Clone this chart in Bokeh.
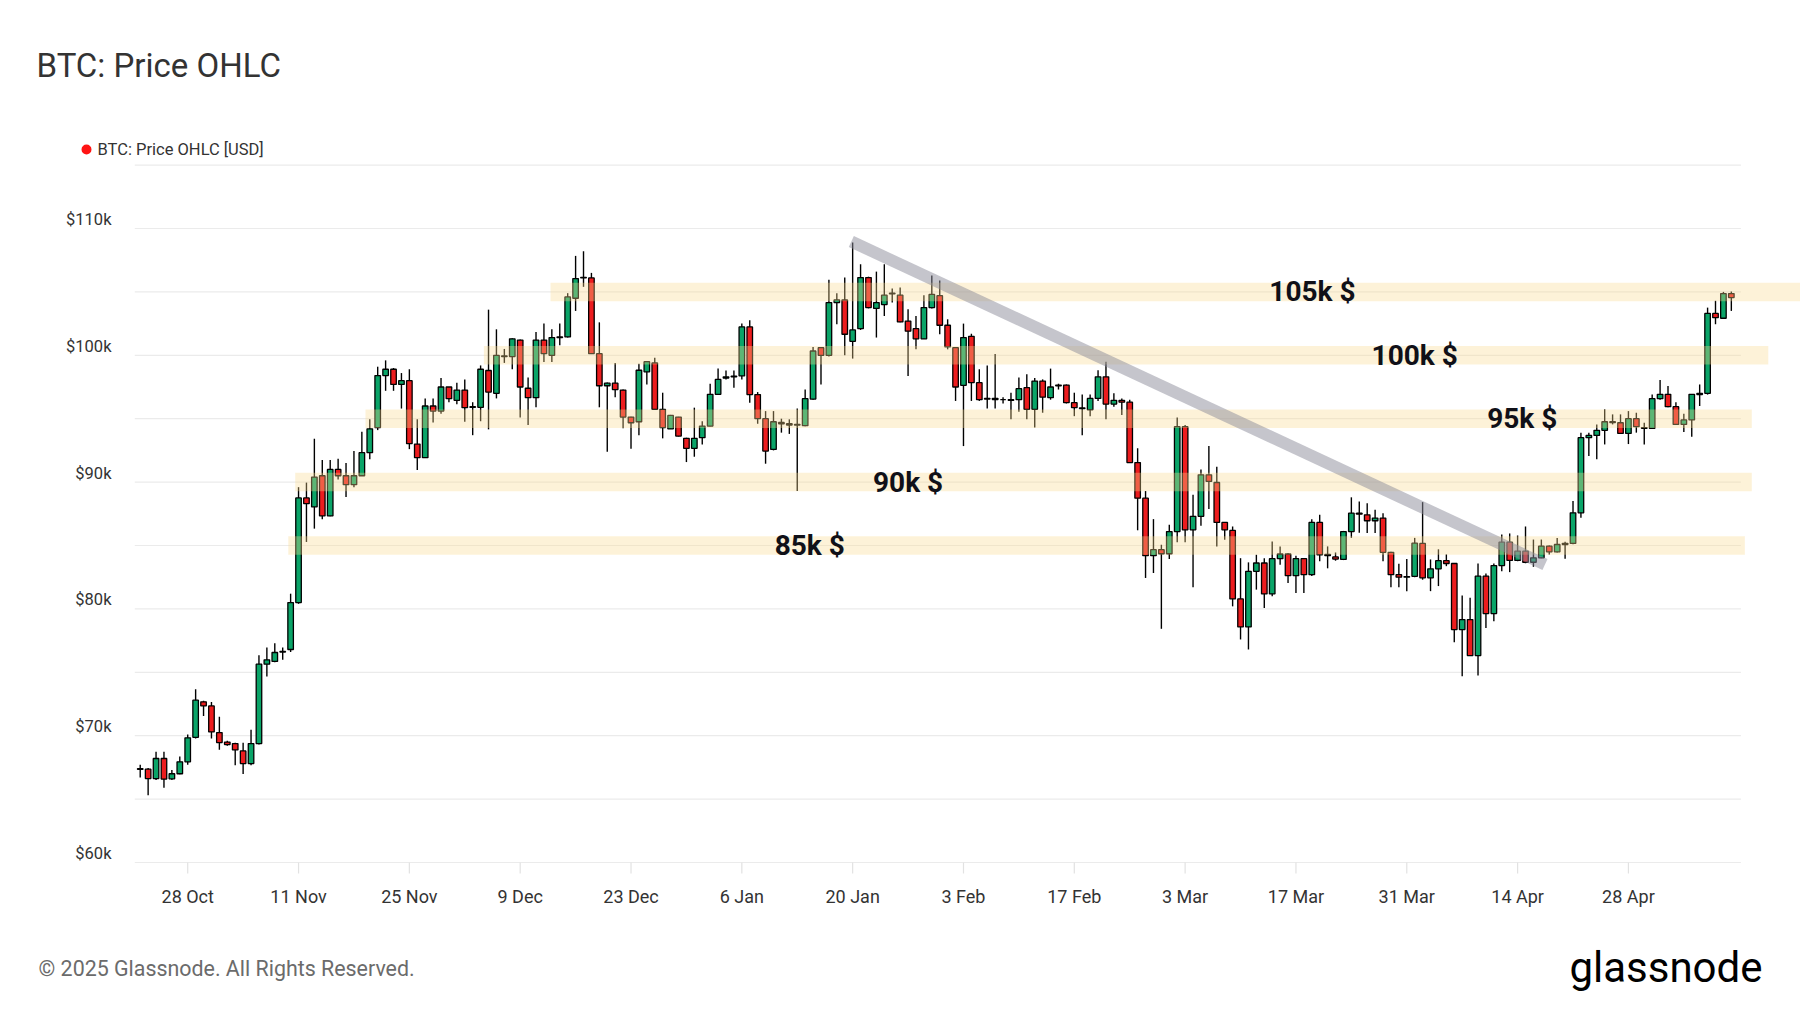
import pandas as pd
from bokeh.plotting import figure
from bokeh.models import Range1d, ColumnDataSource
from bokeh.core.properties import value
from bokeh.embed import file_html
from bokeh.resources import INLINE

# ---------------- data (daily OHLC, thousand USD) ----------------
first_day = "2024-10-21"
opens = [69.0, 67.4, 67.36, 66.62, 68.2, 66.6, 67.0, 67.94, 69.87, 72.67, 72.35,
         70.25, 69.5, 69.38, 68.8, 67.8, 69.38, 75.64, 75.86, 76.6, 76.8, 80.5, 88.75, 88.04, 90.5, 87.33, 91.0, 90.5, 89.8, 90.5, 92.32, 94.3, 98.4, 98.9, 97.7, 98.0, 93.0, 91.93, 96.0, 95.6, 97.5,
         96.45, 97.26, 95.9, 95.9, 98.8, 97.0, 99.9, 99.9, 101.2, 97.4, 96.66, 101.2, 100.0, 101.45, 101.45, 104.5, 106.1, 106.1, 100.13, 97.6, 97.8, 97.26, 95.13, 94.76, 98.7, 99.4, 95.74, 94.2, 95.13, 93.45, 92.66,
         93.5, 94.42, 96.92, 98.2, 98.3, 98.37, 102.24, 96.9, 95.0, 92.58, 94.7, 94.6, 94.5, 94.45, 96.55, 100.6, 100.0, 104.16, 104.37, 101.1, 102.1, 106.13, 103.7, 104.0, 104.9, 104.74, 102.7, 102.1, 101.3, 103.76, 104.7,
         102.37, 100.6, 97.63, 101.5, 97.84, 96.6, 96.6, 96.5, 96.5, 96.5, 97.45, 95.74, 97.97, 96.66, 97.6, 97.65, 96.26, 95.85, 95.7, 96.6, 98.3, 96.15, 96.45, 96.3, 91.54, 88.73, 84.2, 84.67,
         84.35, 86.1, 94.37, 86.24, 87.3, 90.57, 89.97, 86.82, 86.19, 80.79, 78.58, 82.96, 83.62, 81.18, 83.96, 84.33, 82.62, 83.96, 82.7, 86.82, 84.3, 84.1, 83.9, 86.1, 87.55, 87.42, 86.95, 87.16, 84.46, 82.7, 82.5,
         82.57, 85.16, 82.45, 83.16, 83.8, 83.58, 78.37, 79.16, 76.32, 82.58, 79.63, 83.42, 85.26, 83.82, 84.55, 83.68, 84.03, 84.95, 84.5, 85.08, 85.16, 87.58, 93.5, 93.68, 94.08, 94.76, 94.68, 93.84, 95.0, 94.3,
         94.24, 96.58, 96.92, 95.95, 94.55, 94.9, 96.9, 97.0, 103.3, 102.92, 104.87]
highs = [69.5, 67.7, 67.45, 68.73, 68.73, 67.3, 68.36, 70.1, 73.67, 72.75, 72.65,
         71.5, 69.6, 69.45, 69.45, 70.46, 76.35, 76.95, 77.3, 76.95, 81.2, 89.6, 89.96, 93.42, 91.74, 91.74, 91.85, 91.5, 92.45, 93.98, 94.95, 99.1, 99.6, 99.0, 98.6, 98.9, 94.95, 96.6, 96.6, 98.2, 97.5,
         97.84, 98.1, 96.3, 99.2, 103.6, 102.05, 100.5, 101.35, 101.25, 98.24, 101.84, 102.5, 102.05, 102.5, 104.9, 107.84, 108.2, 106.5, 102.6, 97.85, 99.4, 97.3, 95.15, 99.34, 99.55, 99.8, 97.05, 95.3, 95.15, 93.5, 95.87,
         94.8, 97.76, 98.95, 98.8, 98.8, 102.5, 102.76, 97.1, 95.6, 95.6, 95.0, 94.95, 95.8, 97.3, 100.66, 100.66, 105.95, 104.9, 106.13, 108.9, 107.18, 106.2, 106.6, 107.18, 105.26, 105.34, 103.63, 103.1, 104.74, 106.3, 105.9,
         102.84, 100.65, 102.5, 101.7, 98.9, 99.2, 100.1, 96.7, 97.05, 98.24, 98.5, 98.2, 98.1, 98.95, 97.76, 97.7, 97.05, 96.9, 96.9, 98.83, 99.5, 97.0, 96.6, 96.5, 92.67, 89.3, 87.08, 85.06,
         86.63, 95.1, 94.5, 89.0, 91.0, 92.85, 91.22, 86.85, 86.5, 84.0, 83.67, 84.27, 84.0, 85.32, 84.93, 84.4, 84.2, 84.0, 87.08, 87.42, 84.93, 84.45, 86.15, 88.8, 88.47, 88.34, 87.82, 87.55, 84.5, 83.57, 83.93,
         85.6, 88.42, 83.9, 84.7, 84.3, 83.6, 81.05, 80.87, 83.58, 82.8, 83.58, 85.87, 85.95, 85.79, 86.5, 85.47, 85.47, 85.0, 85.6, 85.3, 88.5, 93.9, 93.9, 94.55, 95.74, 95.34, 95.34, 95.6, 95.47, 94.68,
         96.9, 98.05, 97.58, 96.3, 95.4, 96.95, 97.7, 103.76, 104.3, 105.0, 105.03]
lows = [66.8, 66.7, 65.3, 66.5, 65.9, 66.5, 66.95, 67.7, 69.77, 71.56, 69.77,
        68.9, 69.2, 67.67, 66.97, 67.67, 69.3, 74.66, 75.8, 75.98, 76.6, 80.4, 85.28, 86.33, 87.07, 87.3, 90.2, 88.83, 89.6, 90.5, 91.8, 94.1, 97.2, 97.2, 95.8, 92.6, 90.95, 91.9, 94.7, 95.4, 96.3,
        96.13, 94.76, 93.7, 94.8, 94.16, 96.6, 99.4, 98.9, 95.1, 94.5, 95.9, 99.47, 99.47, 100.8, 101.4, 103.5, 105.4, 100.1, 95.9, 92.4, 96.7, 94.24, 92.63, 93.7, 97.7, 95.7, 93.45, 94.2, 93.6, 91.58, 92.0,
        92.97, 94.4, 96.9, 98.1, 97.45, 98.1, 96.26, 94.6, 91.45, 92.5, 93.9, 93.8, 89.3, 94.4, 96.5, 97.7, 99.9, 102.45, 100.0, 99.74, 102.0, 103.7, 101.4, 103.1, 104.16, 102.6, 98.37, 100.47, 101.3, 103.7, 101.66,
        100.47, 96.4, 92.84, 96.4, 96.4, 95.8, 95.8, 96.2, 94.95, 95.55, 94.95, 94.3, 95.47, 96.5, 97.3, 96.2, 95.2, 93.7, 95.2, 96.4, 94.95, 95.95, 95.3, 91.5, 86.2, 82.44, 82.83, 78.43,
        83.93, 85.25, 85.25, 81.7, 86.56, 87.87, 84.93, 85.45, 80.2, 77.59, 76.8, 81.52, 80.08, 81.0, 83.49, 82.05, 81.26, 81.26, 82.6, 83.75, 83.2, 83.8, 83.85, 85.6, 86.0, 85.98, 85.98, 83.75, 81.7, 81.7, 81.4,
        82.5, 82.3, 81.4, 81.8, 83.37, 77.37, 74.68, 76.3, 74.74, 78.5, 79.03, 82.97, 82.9, 83.76, 83.6, 83.32, 84.0, 84.3, 84.45, 83.95, 85.1, 87.18, 92.05, 91.8, 92.97, 94.55, 93.8, 93.0, 93.9, 92.97,
        94.2, 96.5, 95.9, 94.5, 93.95, 93.58, 96.0, 96.9, 102.45, 102.9, 103.5]
closes = [67.4, 67.35, 66.62, 68.2, 66.58, 67.0, 67.94, 69.83, 72.8, 72.35, 70.3,
          69.46, 69.3, 68.88, 67.8, 69.38, 75.64, 75.98, 76.56, 76.65, 80.5, 88.75, 88.3, 90.4, 87.33, 91.0, 90.5, 89.8, 90.5, 92.32, 94.2, 98.4, 98.9, 97.7, 98.0, 93.03, 91.93, 96.0, 95.6, 97.5, 96.58,
          97.26, 95.87, 95.95, 98.9, 97.1, 100.0, 99.95, 101.3, 97.5, 96.66, 101.2, 100.13, 101.4, 101.4, 104.6, 106.05, 106.15, 100.13, 97.6, 97.8, 97.3, 95.13, 94.68, 98.82, 99.5, 95.74, 94.3, 95.26, 93.63, 92.66, 93.45,
          94.42, 96.92, 98.1, 98.3, 98.35, 102.24, 96.9, 95.0, 92.45, 94.76, 94.6, 94.5, 94.55, 96.58, 100.34, 100.0, 104.16, 104.37, 101.66, 102.0, 106.13, 103.76, 104.16, 104.74, 104.85, 102.63, 101.9, 101.3, 103.76, 104.8, 102.37,
          100.66, 97.5, 101.4, 97.84, 96.5, 96.55, 96.5, 96.5, 96.45, 97.37, 95.74, 97.97, 96.7, 97.5, 97.65, 96.26, 95.87, 95.8, 96.6, 98.3, 96.15, 96.45, 96.3, 91.54, 88.73, 84.2, 84.67, 84.35,
          86.1, 94.37, 86.24, 87.3, 90.57, 90.05, 86.82, 86.24, 80.79, 78.58, 82.96, 83.62, 81.18, 83.96, 84.33, 82.62, 83.96, 82.7, 86.82, 84.27, 84.2, 83.93, 86.1, 87.55, 87.47, 86.95, 87.16, 84.46, 82.7, 82.5, 82.55,
          85.18, 82.45, 83.16, 83.8, 83.58, 78.37, 79.16, 76.32, 82.58, 79.63, 83.42, 85.26, 83.82, 84.55, 83.68, 84.03, 84.95, 84.5, 85.08, 85.16, 87.58, 93.5, 93.68, 94.08, 94.76, 94.7, 93.84, 95.0, 94.37, 94.24,
          96.58, 96.92, 95.95, 94.55, 94.9, 96.92, 97.0, 103.3, 102.97, 104.87, 104.55]

tick_dates = ["2024-10-28", "2024-11-11", "2024-11-25", "2024-12-09", "2024-12-23", "2025-01-06", "2025-01-20",
              "2025-02-03", "2025-02-17", "2025-03-03", "2025-03-17", "2025-03-31", "2025-04-14", "2025-04-28"]
tick_labels = ["28 Oct", "11 Nov", "25 Nov", "9 Dec", "23 Dec", "6 Jan", "20 Jan",
               "3 Feb", "17 Feb", "3 Mar", "17 Mar", "31 Mar", "14 Apr", "28 Apr"]
y_label_values = [60000, 70000, 80000, 90000, 100000, 110000]
y_label_texts = ["$60k", "$70k", "$80k", "$90k", "$100k", "$110k"]
grid_levels = [60000, 65000, 70000, 75000, 80000, 85000, 90000, 95000, 100000, 105000, 110000, 115000]

band_levels = [105000, 100000, 95000, 90000, 85000]
band_texts = ["105k $", "100k $", "95k $", "90k $", "85k $"]
band_starts = ["2024-12-12 20:00", "2024-12-04 10:00", "2024-11-19 11:00", "2024-11-10 14:00", "2024-11-09 17:00"]
band_ends = ["2025-05-19 17:00", "2025-05-15 16:00", "2025-05-13 14:00", "2025-05-13 14:00", "2025-05-12 17:00"]
band_text_dates = ["2025-03-19 02:00", "2025-04-01 00:00", "2025-04-14 14:00", "2025-01-27 00:00", "2025-01-14 14:00"]

trend_dates = ["2025-01-19 20:00", "2025-04-17 11:00"]
trend_prices = [108970, 83500]

# ---------------- page geometry (pixels on the 1800x1013 page) ----------------
W, H = 1800, 1013
X_FIRST = 131.8        # page x of first_day
PX_PER_DAY = 7.916
Y_60K = 862.0          # page y of the $60k grid line
PX_PER_USD = 12.68 / 1000
GRID_X0, GRID_X1 = 134.3, 1740.4
T0 = pd.Timestamp(first_day)


def xd(px):
    return T0 + pd.Timedelta(days=(px - X_FIRST) / PX_PER_DAY)


def yd(py):
    return 60000 + (Y_60K - py) / PX_PER_USD


GREEN, RED = "#0aa468", "#ec1c1e"
GRID = "#ebebeb"
TXT = "#333333"

n = len(opens)
assert n == len(highs) == len(lows) == len(closes) == 203
dates = pd.date_range(first_day, periods=n, freq="D")
o = [v * 1000 for v in opens]
h = [v * 1000 for v in highs]
l = [v * 1000 for v in lows]
c = [v * 1000 for v in closes]
window_start = xd(GRID_X0)
keep = [i for i in range(n) if dates[i] >= window_start]   # candles inside the chart window
src = ColumnDataSource(dict(
    x=[dates[i] for i in keep],
    high=[h[i] for i in keep],
    low=[l[i] for i in keep],
    top=[max(o[i], c[i]) for i in keep],
    bottom=[min(o[i], c[i]) for i in keep],
    color=[GREEN if c[i] >= o[i] else RED for i in keep],
))

p = figure(width=W, height=H, x_axis_location=None, y_axis_location=None,
           x_range=Range1d(xd(0), xd(W)), y_range=Range1d(yd(H), yd(0)),
           output_backend="svg", toolbar_location=None, min_border=0)
p.outline_line_color = None
p.grid.visible = False
p.background_fill_color = "white"
p.border_fill_color = "white"

# grid lines
ng = len(grid_levels)
p.segment(x0=[xd(GRID_X0)] * ng, y0=grid_levels, x1=[xd(GRID_X1)] * ng, y1=grid_levels,
          line_color=GRID, line_width=1.2)

# x ticks + labels
tick_x = pd.to_datetime(tick_dates)
p.segment(x0=tick_x, y0=[yd(Y_60K)] * len(tick_x), x1=tick_x, y1=[yd(Y_60K + 11)] * len(tick_x),
          line_color="#e2e2e2", line_width=1.2)
p.text(x=tick_x, y=[yd(895.5)] * len(tick_x), text=tick_labels,
       text_font=value("Roboto"), text_font_size="18px", text_color=TXT,
       text_align="center", text_baseline="middle")

# y labels (drawn just above their grid lines)
LABEL_LIFT = 9 / PX_PER_USD
p.text(x=[xd(111)] * len(y_label_values), y=[v + LABEL_LIFT for v in y_label_values], text=y_label_texts,
       text_font=value("Roboto"), text_font_size="16.5px", text_color=TXT,
       text_align="right", text_baseline="middle")

# candles
p.segment(x0="x", y0="high", x1="x", y1="low", source=src, line_color="black", line_width=1.4)
p.vbar(x="x", width=0.7 * 86400000, top="top", bottom="bottom", fill_color="color",
       line_color="black", line_width=1.3, source=src)

# highlighted levels
BAND_HALF = 730
p.quad(left=pd.to_datetime(band_starts), right=pd.to_datetime(band_ends),
       bottom=[v - BAND_HALF for v in band_levels], top=[v + BAND_HALF for v in band_levels],
       fill_color="#f9d98f", fill_alpha=0.35, line_color=None)

# trend line
p.line(x=pd.to_datetime(trend_dates), y=trend_prices, line_width=12, line_color="#8b8b99",
       line_alpha=0.5, line_cap="butt")

# level texts
p.text(x=pd.to_datetime(band_text_dates), y=band_levels, text=band_texts,
       text_font=value("Roboto"), text_font_style="bold", text_font_size="28px",
       text_color="#101018", text_align="center", text_baseline="middle")

# title, legend, footer
p.text(x=[xd(36)], y=[yd(64.5)], text=["BTC: Price OHLC"], text_font=value("Roboto"),
       text_font_size="33px", text_color=TXT, text_align="left", text_baseline="middle")
p.scatter(x=[xd(86)], y=[yd(149)], size=10, marker="circle", fill_color="#ff1414", line_color=None)
p.text(x=[xd(97)], y=[yd(149)], text=["BTC: Price OHLC [USD]"], text_font=value("Roboto"),
       text_font_size="16.5px", text_color=TXT, text_align="left", text_baseline="middle")
p.text(x=[xd(38)], y=[yd(968)], text=["© 2025 Glassnode. All Rights Reserved."], text_font=value("Roboto"),
       text_font_size="21.4px", text_color="#6b6b6b", text_align="left", text_baseline="middle")
p.text(x=[xd(1762)], y=[yd(967)], text=["glassnode"], text_font=value("Roboto"),
       text_font_size="42px", text_color="#000000", text_align="right", text_baseline="middle")

open("out.html", "w").write(file_html(p, INLINE))
